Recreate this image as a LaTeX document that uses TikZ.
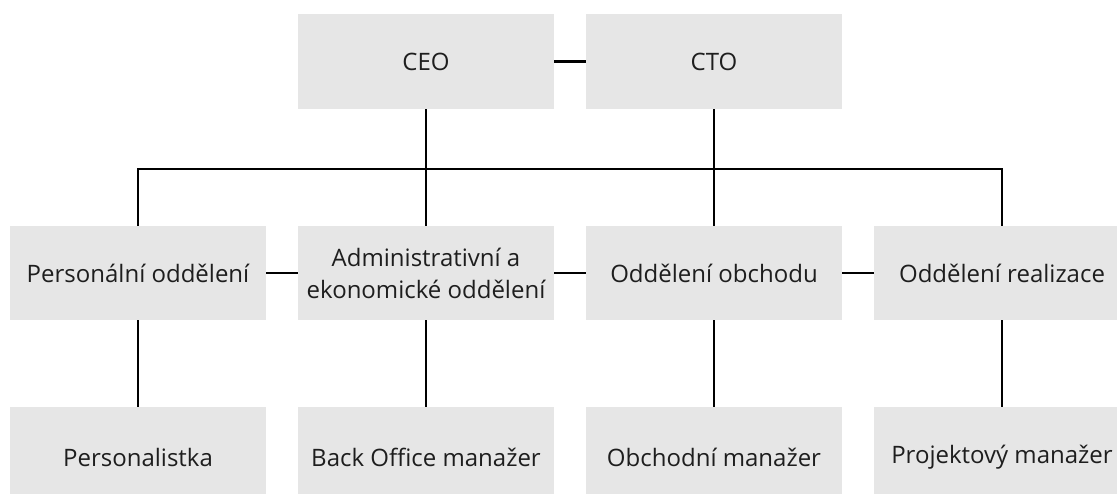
\documentclass[tikz,border=0pt]{standalone}
\usepackage{fontspec}
\setmainfont{Open Sans}
\begin{document}
\begin{tikzpicture}[x=1pt,y=-1pt,
  box/.style={fill=boxgray, minimum width=256pt, minimum height=95pt, inner sep=0pt,
    align=center, font=\fontsize{24}{32}\selectfont, text=textdark},
  link/.style={draw=black, line width=2.2pt}]
\definecolor{boxgray}{HTML}{E6E6E6}
\definecolor{textdark}{HTML}{1E1E1E}
\useasboundingbox (0,0) rectangle (1117,493);
\begin{scope}
\clip (0,0) rectangle (1117,493);
% top management
\node[box] (ceo) at (426,61.5) {CEO};
\node[box] (cto) at (714,61.5) {CTO};
% departments
\node[box, minimum height=94pt] (d1) at (138,273) {Personální oddělení};
\node[box, minimum height=94pt] (d2) at (426,273) {Administrativní a\\ekonomické oddělení};
\node[box, minimum height=94pt] (d3) at (714,273) {Oddělení obchodu};
\node[box, minimum height=94pt] (d4) at (1002,273) {Oddělení realizace};
% staff
\node[box, minimum height=100pt] (s1) at (138,457) {Personalistka};
\node[box, minimum height=100pt] (s2) at (426,457) {Back Office manažer};
\node[box, minimum height=100pt] (s3) at (714,457) {Obchodní manažer};
\node[box, minimum height=100pt] (s4) at (1002,457) {Projektový manažer};
\coordinate (bus) at (0,169);
% connectors
\draw[link] (ceo) -- (cto);
\draw[link] (d1) -- (d2);
\draw[link] (d2) -- (d3);
\draw[link] (d3) -- (d4);
\draw[link] (ceo.south) -- (ceo.south |- bus);
\draw[link] (cto.south) -- (cto.south |- bus);
\draw[link, line join=miter] (d1.north) -- (d1.north |- bus) -- (d4.north |- bus) -- (d4.north);
\draw[link] (d2.north) -- (d2.north |- bus);
\draw[link] (d3.north) -- (d3.north |- bus);
\draw[link] (d1.south) -- (s1.north);
\draw[link] (d2.south) -- (s2.north);
\draw[link] (d3.south) -- (s3.north);
\draw[link] (d4.south) -- (s4.north);
\end{scope}
\end{tikzpicture}
\end{document}
